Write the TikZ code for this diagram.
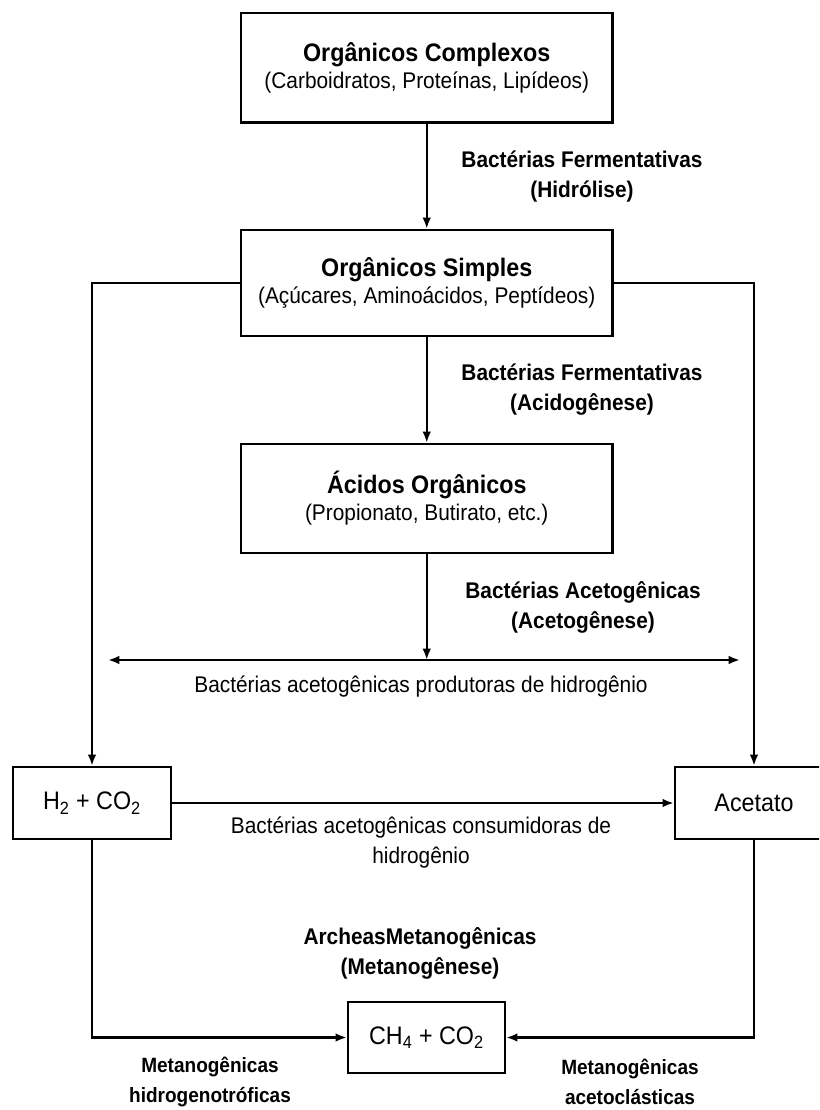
\documentclass[tikz,border=0pt]{standalone}
\usepackage{fontspec}
\setmainfont{Liberation Sans}[FakeStretch=0.92]
\usetikzlibrary{arrows.meta}
\begin{document}
\begin{tikzpicture}[x=0.75pt,y=-0.75pt,
  box/.style={draw, line width=1.7pt, align=center, inner sep=0pt, fill=white},
  ttl/.style={font=\fontsize{19}{22.5}\selectfont},
  conn/.style={line width=1.7pt, -{Latex[length=8.5pt,width=6.5pt]}},
  dconn/.style={line width=1.7pt, {Latex[length=8.5pt,width=6.5pt]}-{Latex[length=8.5pt,width=6.5pt]}},
  lab/.style={align=center, font=\fontsize{17}{22.5}\selectfont},
  blab/.style={align=center, font=\fontsize{17}{22.5}\selectfont\bfseries},
  slab/.style={align=center, font=\fontsize{15.5}{22.5}\selectfont\bfseries}]
\clip (0,0) rectangle (819,1110);
\fill[white] (0,0) rectangle (819,1110);
% boxes
\node[box, minimum width=278.6pt, minimum height=82.1pt] (b1) at (426.75,67.75)
  {{\fontsize{19}{22.5}\selectfont\bfseries Orgânicos Complexos}\\[3pt]{\fontsize{17}{22.5}\selectfont (Carboidratos, Proteínas, Lipídeos)}};
\node[box, minimum width=278.6pt, minimum height=79.5pt] (b2) at (426.75,283)
  {{\fontsize{19}{22.5}\selectfont\bfseries Orgânicos Simples}\\[3pt]{\fontsize{17}{22.5}\selectfont (Açúcares, Aminoácidos, Peptídeos)}};
\node[box, minimum width=278.6pt, minimum height=81.75pt] (b3) at (426.75,498.5)
  {{\fontsize{19}{22.5}\selectfont\bfseries Ácidos Orgânicos}\\[3pt]{\fontsize{17}{22.5}\selectfont (Propionato, Butirato, etc.)}};
\node[box, ttl, minimum width=118.5pt, minimum height=54pt] (h2) at (92,803)
  {H\textsubscript{2} + CO\textsubscript{2}};
\node[box, ttl, minimum width=118.5pt, minimum height=54pt] (ac) at (754,803) {Acetato};
\node[box, ttl, minimum width=117.75pt, minimum height=53.25pt] (ch4) at (426.5,1037.5)
  {CH\textsubscript{4} + CO\textsubscript{2}};
% coordinates
\coordinate (hm) at (426.75,660);
\coordinate (hl) at (108,660);
\coordinate (hr) at (740,660);
% connectors
\draw[conn] (b1) -- (b2);
\draw[conn] (b2) -- (b3);
\draw[dconn] (hl) -- (hr);
\draw[conn] (b3) -- (hm);
\draw[conn] (b2.west) -| (h2.north);
\draw[conn] (b2.east) -| (ac.north);
\draw[conn] (h2) -- (ac);
\draw[conn] (h2.south) |- (ch4.west);
\draw[conn] (ac.south) |- (ch4.east);
% labels
\node[blab] (l1) at (582,177) {Bactérias Fermentativas\\(Hidrólise)};
\node[blab] (l2) at (582,390) {Bactérias Fermentativas\\(Acidogênese)};
\node[blab] (l3) at (583,607) {Bactérias Acetogênicas\\(Acetogênese)};
\node[lab] (l4) at (421,686) {Bactérias acetogênicas produtoras de hidrogênio};
\node[lab] (l5) at (421,842) {Bactérias acetogênicas consumidoras de\\hidrogênio};
\node[blab] (l6) at (420,953) {ArcheasMetanogênicas\\(Metanogênese)};
\node[slab] (l7) at (210,1082) {Metanogênicas\\hidrogenotróficas};
\node[slab] (l8) at (630,1082) {Metanogênicas\\acetoclásticas};
\end{tikzpicture}
\end{document}
